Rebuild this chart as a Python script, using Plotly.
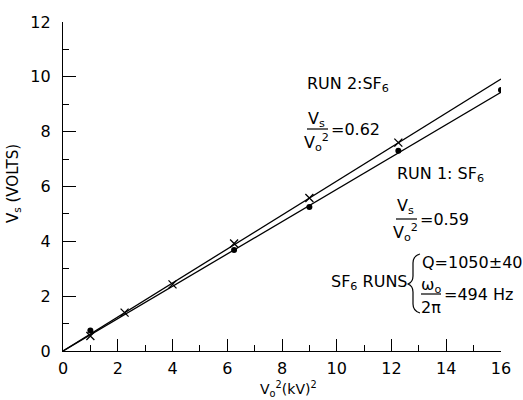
import plotly.graph_objects as go

# Data
run1_x = [1, 6.25, 9, 12.25, 16]
run1_y = [0.75, 3.68, 5.25, 7.3, 9.52]
run2_x = [1, 2.25, 4, 6.25, 9, 12.25]
run2_y = [0.55, 1.4, 2.43, 3.92, 5.58, 7.6]
run1_slope = 0.59
run2_slope = 0.62
fit_x = [0, 16]
x_ticks = [0, 2, 4, 6, 8, 10, 12, 14, 16]
y_ticks = [0, 2, 4, 6, 8, 10, 12]

W, H = 523, 400
L, R, T, B = 63, 22, 22, 49
XMAX, YMAX = 16, 12
FONT = "DejaVu Sans"
AFS = 16

def px(xp, yp):
    xd = (xp - L) / (W - L - R) * XMAX
    yd = (H - B - yp) / (H - T - B) * YMAX
    return xd, yd

fig = go.Figure()
fig.add_trace(go.Scatter(x=fit_x, y=[run2_slope * v for v in fit_x], mode="lines",
                         line=dict(color="black", width=1.3), showlegend=False))
fig.add_trace(go.Scatter(x=fit_x, y=[run1_slope * v for v in fit_x], mode="lines",
                         line=dict(color="black", width=1.3), showlegend=False))
fig.add_trace(go.Scatter(x=run2_x, y=run2_y, mode="markers",
                         marker=dict(symbol="x-thin", size=8, line=dict(color="black", width=1.3)),
                         showlegend=False))
fig.add_trace(go.Scatter(x=run1_x, y=run1_y, mode="markers",
                         marker=dict(symbol="circle", size=6, color="black"),
                         showlegend=False))

annotations = []
shapes = []

def text(xp, yp, s, size=AFS, xanchor="left"):
    xd, yd = px(xp, yp)
    annotations.append(dict(x=xd, y=yd, xref="x", yref="y", text=s, showarrow=False,
                            xanchor=xanchor, yanchor="middle",
                            font=dict(family=FONT, size=size, color="black")))

def hline(x0p, x1p, yp):
    a = px(x0p, yp); b = px(x1p, yp)
    shapes.append(dict(type="line", xref="x", yref="y", x0=a[0], y0=a[1], x1=b[0], y1=b[1],
                       line=dict(color="black", width=1.2)))

# RUN 2
text(305, 84, "RUN 2:SF<sub>6</sub>")
text(316, 119, "V<sub>s</sub>", xanchor="center")
hline(307, 328, 129)
text(316, 142, "V<sub>o</sub><sup>2</sup>", xanchor="center")
text(329, 129, "=0.62")

# RUN 1
text(395, 174, "RUN 1: SF<sub>6</sub>")
text(405, 206, "V<sub>s</sub>", xanchor="center")
hline(396, 417, 219)
text(405, 232, "V<sub>o</sub><sup>2</sup>", xanchor="center")
text(418, 219, "=0.59")

# SF6 RUNS
text(329, 282, "SF<sub>6</sub> RUNS")
text(420, 262, "Q=1050±40")
text(431, 285, "ω<sub>o</sub>", xanchor="center")
hline(421, 441, 294)
text(431, 307, "2π", xanchor="center")
text(442, 294, "=494 Hz")

# brace
pts = [(420, 254), (413, 256), (413, 263), (413, 276), (413, 282), (408, 284),
       (413, 286), (413, 292), (413, 304), (413, 311), (420, 313)]
d = [px(*p) for p in pts]
path = (f"M {d[0][0]},{d[0][1]} Q {d[1][0]},{d[1][1]} {d[2][0]},{d[2][1]} "
        f"L {d[3][0]},{d[3][1]} Q {d[4][0]},{d[4][1]} {d[5][0]},{d[5][1]} "
        f"Q {d[6][0]},{d[6][1]} {d[7][0]},{d[7][1]} "
        f"L {d[8][0]},{d[8][1]} Q {d[9][0]},{d[9][1]} {d[10][0]},{d[10][1]}")
shapes.append(dict(type="path", xref="x", yref="y", path=path, line=dict(color="black", width=1.2)))

# axis titles
annotations.append(dict(x=(288 - L) / (W - L - R), y=0,
                        xref="paper", yref="paper", text="V<sub>o</sub><sup>2</sup>(kV)<sup>2</sup>",
                        showarrow=False, xanchor="center", yanchor="top", yshift=-26,
                        font=dict(family=FONT, size=14, color="black")))
annotations.append(dict(x=0, y=(H - B - 184) / (H - T - B), xref="paper", yref="paper",
                        text="V<sub>s</sub> (VOLTS)", textangle=-90, showarrow=False,
                        xanchor="center", yanchor="middle", xshift=-50,
                        font=dict(family=FONT, size=15, color="black")))

fig.update_layout(
    width=W, height=H, margin=dict(l=L, r=R, t=T, b=B, pad=0),
    paper_bgcolor="white", plot_bgcolor="white",
    annotations=annotations, shapes=shapes,
    xaxis=dict(range=[0, XMAX], tickvals=x_ticks, ticks="inside", ticklen=12, tickwidth=1.2,
               tickcolor="black", showline=True, linecolor="black", linewidth=1.3,
               showgrid=False, zeroline=False,
               minor=dict(dtick=1, ticks="inside", ticklen=6, tickwidth=1.2, tickcolor="black"),
               tickfont=dict(family=FONT, size=16, color="black"), ticklabelstandoff=3),
    yaxis=dict(range=[0, YMAX], tickvals=y_ticks, ticks="inside", ticklen=13, tickwidth=1.2,
               tickcolor="black", showline=True, linecolor="black", linewidth=1.3,
               showgrid=False, zeroline=False,
               minor=dict(dtick=1, ticks="inside", ticklen=6, tickwidth=1.2, tickcolor="black"),
               tickfont=dict(family=FONT, size=16, color="black"), ticklabelstandoff=8),
)

fig.write_html("out.html", post_script="document.body.style.margin='0';",
               config={"displayModeBar": False})
